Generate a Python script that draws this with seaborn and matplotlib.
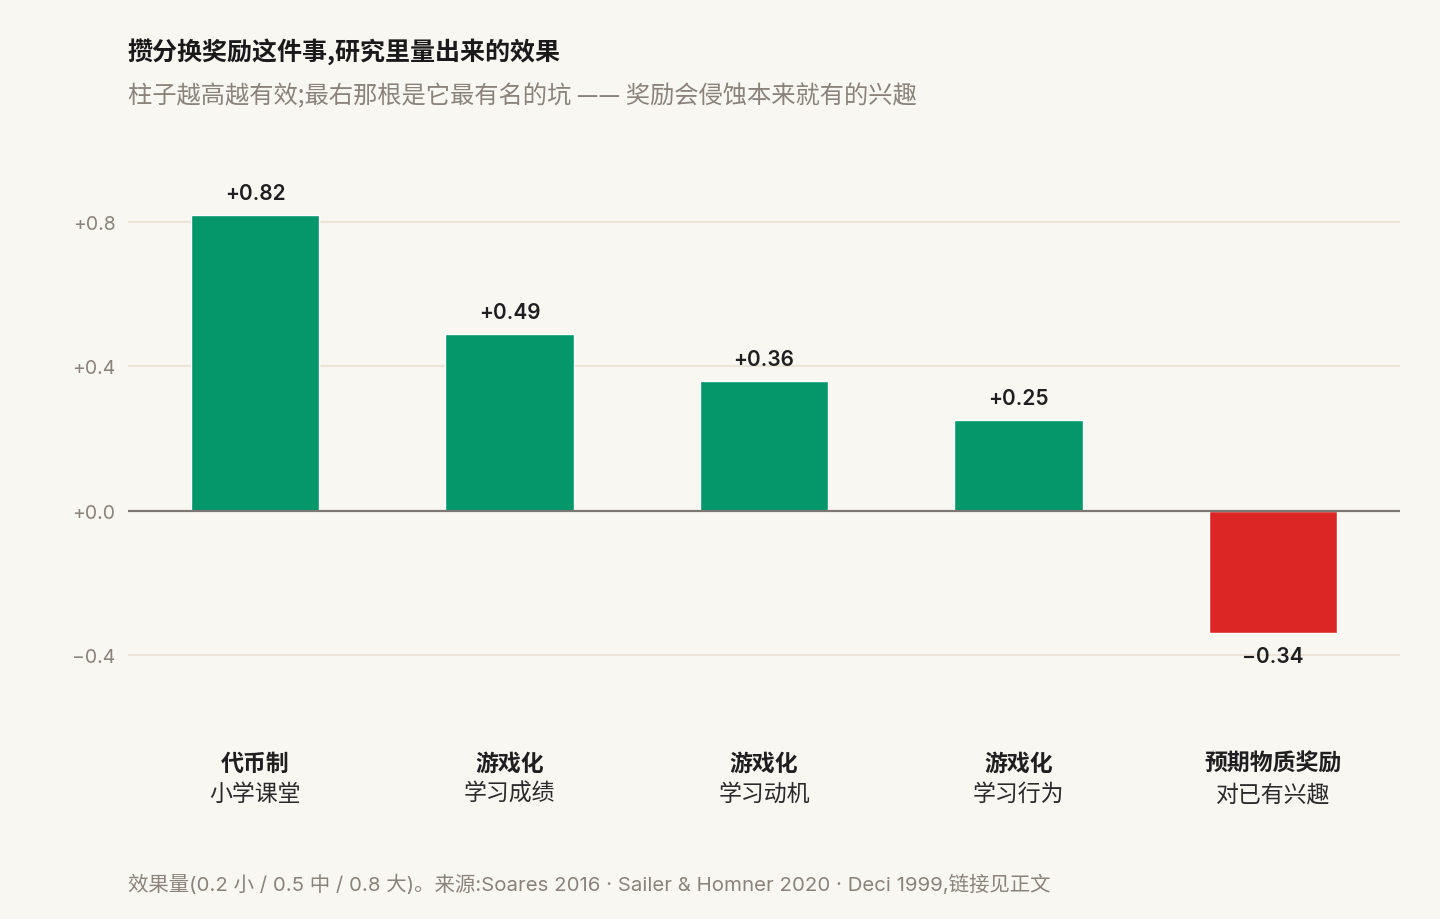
import numpy as np
import matplotlib.pyplot as plt
import matplotlib.transforms as mtransforms
import seaborn as sns
import pandas as pd

# data
cats = ['代币制', '游戏化', '游戏化 ', '游戏化  ', '预期物质奖励']
cat_names = ['代币制', '游戏化', '游戏化', '游戏化', '预期物质奖励']
cat_subs = ['小学课堂', '学习成绩', '学习动机', '学习行为', '对已有兴趣']
effects = [0.82, 0.49, 0.36, 0.25, -0.34]
yticks = [-0.4, 0.0, 0.4, 0.8]

bg = '#F9F7F2'
green = '#05966A'
red = '#DC2626'

sns.set_style('white')
plt.rcParams['font.family'] = ['Inter', 'Noto Sans CJK SC', 'DejaVu Sans']

df = pd.DataFrame({'cat': cats, 'effect': effects})
colors = [green if v >= 0 else red for v in effects]

fig = plt.figure(figsize=(14.4, 9.2), dpi=100, facecolor=bg)
ax = fig.add_axes([128 / 1440, 1 - 701 / 920, 1272 / 1440, 550 / 920])
ax.set_facecolor(bg)

for t in yticks:
    if t != 0:
        ax.axhline(t, color='#ECE5D7', lw=1.5, zorder=0)

sns.barplot(data=df, x='cat', y='effect', hue='cat', palette=colors,
            width=0.505, legend=False, ax=ax, zorder=2, saturation=1)
ax.axhline(0, color='#7D7873', lw=1.6, zorder=3)

ax.set_xlim(-0.5, 4.5)
ax.set_ylim(-0.525, 1.0)
ax.set_yticks(yticks)
ax.set_yticklabels([f'{t:+.1f}'.replace('-', '−') for t in yticks],
                   color='#8A837C', fontsize=14)
ax.tick_params(axis='y', length=0, pad=9)
ax.set_xticks([])
ax.set_xlabel('')
ax.set_ylabel('')
for s in ax.spines.values():
    s.set_visible(False)

for i, v in enumerate(effects):
    lab = f'{v:+.2f}'.replace('-', '−')
    ax.annotate(lab, (i, v), xytext=(0, 16 if v >= 0 else -16),
                textcoords='offset points', ha='center', va='center',
                fontsize=15, fontweight='semibold', color='#1F1F1F')

trans = mtransforms.blended_transform_factory(ax.transData, fig.transFigure)
for i in range(len(cat_names)):
    ax.text(i, 1 - 765 / 920, cat_names[i], transform=trans, ha='center',
            va='center', fontsize=16.5, fontweight='bold', color='#1F1F1F')
    ax.text(i, 1 - 795 / 920, cat_subs[i], transform=trans, ha='center',
            va='center', fontsize=16.5, color='#2A2A2A')

fig.text(128 / 1440, 1 - 52 / 920, '攒分换奖励这件事,研究里量出来的效果',
         fontsize=18, fontweight='bold', color='#1A1A1A', va='center',
         family=['Noto Sans CJK SC'])
fig.text(128 / 1440, 1 - 96 / 920,
         '柱子越高越有效;最右那根是它最有名的坑 —— 奖励会侵蚀本来就有的兴趣',
         fontsize=17.5, color='#8A837C', va='center',
         family=['Noto Sans CJK SC'])
fig.text(128 / 1440, 1 - 885 / 920,
         '效果量(0.2 小 / 0.5 中 / 0.8 大)。来源:Soares 2016 · Sailer & Homner 2020 · Deci 1999,链接见正文',
         fontsize=14.7, color='#8A837C', va='center')

plt.savefig('out.png', facecolor=bg)
